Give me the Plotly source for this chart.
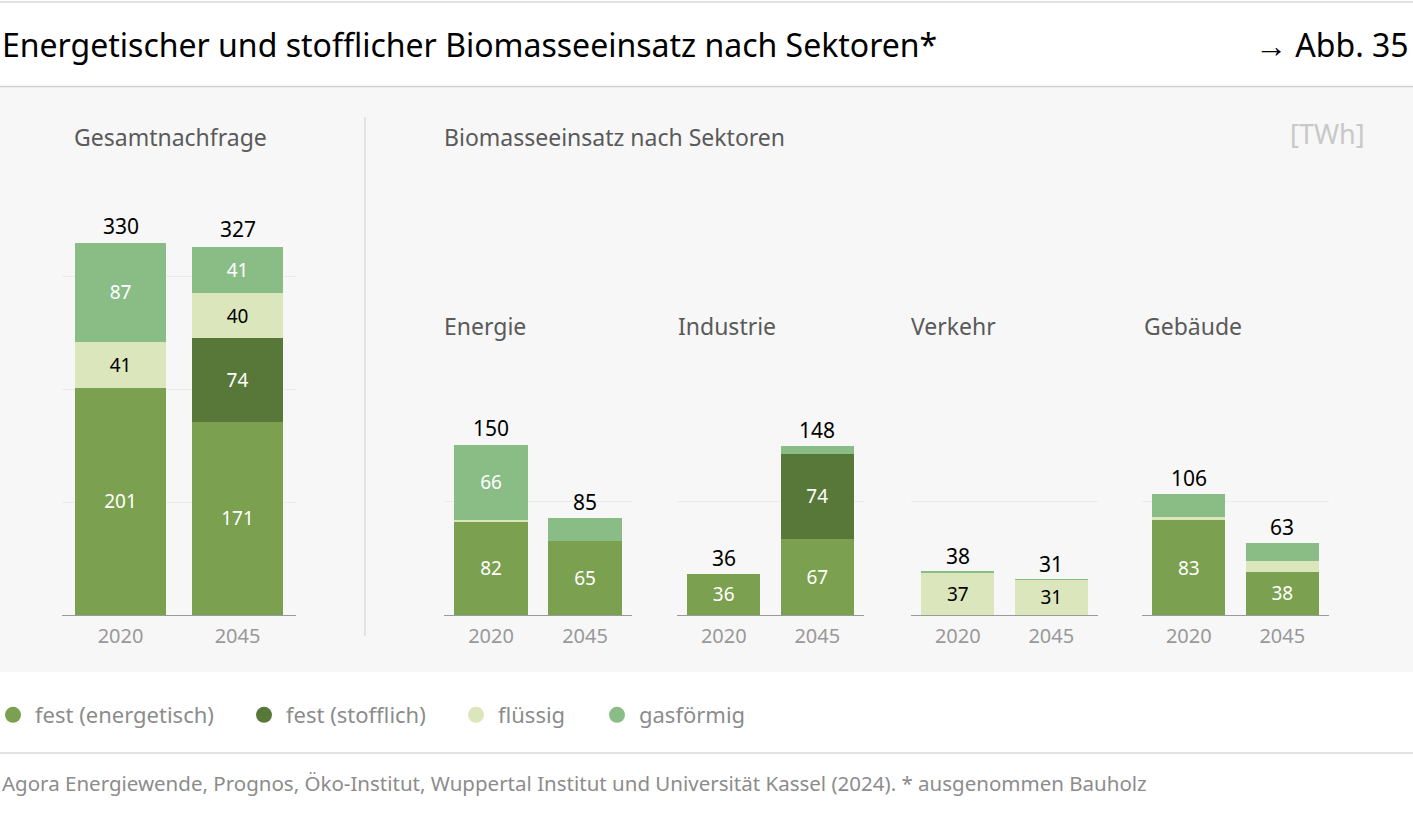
import plotly.graph_objects as go
from plotly.subplots import make_subplots

W, H = 1413, 816

years = ["2020", "2045"]
panels = ["Gesamtnachfrage", "Energie", "Industrie", "Verkehr", "Gebäude"]

# TWh je Panel: [2020, 2045]
fest_energetisch = [[201, 171], [82, 65], [36, 67], [0, 0], [83, 38]]
fest_stofflich = [[0, 74], [0, 0], [0, 74], [0, 0], [0, 0]]
fluessig = [[41, 40], [1.5, 0], [0, 0], [37, 31], [3, 9]]
gasfoermig = [[87, 41], [66, 20], [0, 7], [1, 0.4], [20, 16]]
totals = [[330, 327], [150, 85], [36, 148], [38, 31], [106, 63]]

series = [
    ("fest (energetisch)", fest_energetisch, "#7ba050", "white"),
    ("fest (stofflich)", fest_stofflich, "#58783a", "white"),
    ("flüssig", fluessig, "#dce6bc", "black"),
    ("gasförmig", gasfoermig, "#8abd86", "white"),
]

FONT = "Noto Sans"


def px(x):
    return x / W


def py(y):
    return 1 - y / H


fig = make_subplots(rows=1, cols=5)

for i in range(5):
    for name, vals, color, tcol in series:
        v = vals[i]
        fig.add_trace(go.Bar(
            x=years, y=v, name=name,
            marker=dict(color=color, line=dict(width=0)),
            text=[str(round(t)) if t >= 30 else "" for t in v],
            textposition="inside", insidetextanchor="middle",
            textangle=0,
            textfont=dict(family=FONT, size=19, color=tcol),
            showlegend=False, hoverinfo="skip",
        ), row=1, col=i + 1)

# legend entries, one small legend per series
legend_ids = ["legend", "legend2", "legend3", "legend4"]
for (name, vals, color, tcol), lg in zip(series, legend_ids):
    fig.add_trace(go.Scatter(
        x=[None], y=[None], mode="markers", name=name, legend=lg,
        marker=dict(symbol="circle", size=16, color=color),
    ), row=1, col=1)

fig.update_layout(barmode="stack", bargap=0.22)

x_domains = [(62, 296), (444, 632), (677, 864), (911, 1098), (1142, 1329)]
for i, (a, b) in enumerate(x_domains):
    fig.update_xaxes(domain=[px(a), px(b)], type="category", range=[-0.5, 1.5],
                     automargin=False, showline=True, linecolor="#9a9a9a",
                     linewidth=1.3, ticks="", showgrid=False, ticklabelstandoff=3,
                     tickfont=dict(family=FONT, size=20, color="#999999"),
                     row=1, col=i + 1)
    if i == 0:
        fig.update_yaxes(domain=[py(615), py(615 - 3.5 * 113)], range=[0, 350],
                         row=1, col=1)
    else:
        fig.update_yaxes(domain=[py(615), py(387)], range=[0, 200],
                         row=1, col=i + 1)
    fig.update_yaxes(dtick=100, showgrid=True, gridcolor="#ebebeb", gridwidth=1,
                     zeroline=False, showticklabels=False, ticks="", automargin=False,
                     row=1, col=i + 1)

shapes = [
    dict(type="rect", xref="paper", yref="paper", x0=0, x1=1, y0=py(672), y1=py(87),
         fillcolor="#f7f7f7", line=dict(width=0), layer="below"),
    dict(type="line", xref="paper", yref="paper", x0=0, x1=1, y0=py(2), y1=py(2),
         line=dict(color="#d9d9d9", width=1.5)),
    dict(type="line", xref="paper", yref="paper", x0=0, x1=1, y0=py(86.5), y1=py(86.5),
         line=dict(color="#cfcfcf", width=1.5)),
    dict(type="line", xref="paper", yref="paper", x0=0, x1=1, y0=py(753), y1=py(753),
         line=dict(color="#d9d9d9", width=1.5)),
    dict(type="line", xref="paper", yref="paper", x0=px(365), x1=px(365),
         y0=py(117), y1=py(636), line=dict(color="#dddddd", width=1.5)),
]


def note(text, x, y, size, color, xanchor="left"):
    return dict(text=text, x=px(x), y=py(y), xref="paper", yref="paper",
                xanchor=xanchor, yanchor="middle", showarrow=False,
                font=dict(family=FONT, size=size, color=color))


annotations = [
    note("Energetischer und stofflicher Biomasseeinsatz nach Sektoren*", 0, 44, 32, "black"),
    note("→ Abb. 35", 1411, 44, 32, "black", "right"),
    note("Gesamtnachfrage", 72, 137, 23, "#5a5a5a"),
    note("Biomasseeinsatz nach Sektoren", 442, 137, 23, "#5a5a5a"),
    note("[TWh]", 1367, 134, 27, "#c8c8c8", "right"),
    note("Energie", 442, 326, 23, "#5a5a5a"),
    note("Industrie", 676, 326, 23, "#5a5a5a"),
    note("Verkehr", 909, 326, 23, "#5a5a5a"),
    note("Gebäude", 1142, 326, 23, "#5a5a5a"),
    note("Agora Energiewende, Prognos, Öko-Institut, Wuppertal Institut und Universität Kassel (2024). "
         "* ausgenommen Bauholz", 0, 783, 20.5, "#8c8c8c"),
]

# totals above the bars (x = category index)
for i in range(5):
    ax = "" if i == 0 else str(i + 1)
    for j, t in enumerate(totals[i]):
        annotations.append(dict(
            text=str(t), x=j, y=t, xref="x" + ax, yref="y" + ax,
            xanchor="center", yanchor="bottom", yshift=0, showarrow=False,
            font=dict(family=FONT, size=21, color="black")))

legend_style = dict(orientation="h", xanchor="left", y=py(715), yanchor="middle",
                    font=dict(family=FONT, size=22, color="#8c8c8c"),
                    itemsizing="trace", itemwidth=34, bgcolor="rgba(0,0,0,0)")
legend_x = [-9, 242, 454, 595]

fig.update_layout(
    width=W, height=H,
    margin=dict(l=0, r=0, t=0, b=0, autoexpand=False),
    paper_bgcolor="white", plot_bgcolor="rgba(0,0,0,0)",
    font=dict(family=FONT),
    shapes=shapes, annotations=annotations,
    showlegend=True,
    **{lg: dict(legend_style, x=px(lx)) for lg, lx in zip(legend_ids, legend_x)},
)

fig.write_html("out.html", config={"displayModeBar": False},
               post_script="document.body.style.margin='0';")
